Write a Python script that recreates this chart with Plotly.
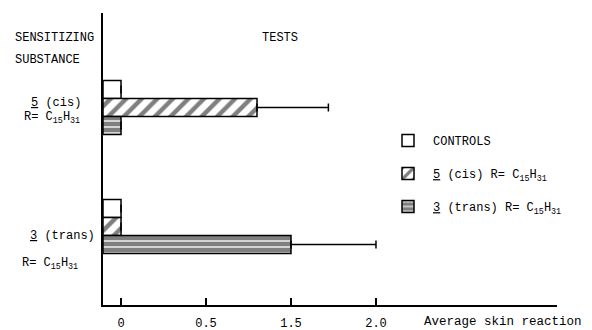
import plotly.graph_objects as go

# ---- data ----
groups = ["5 (cis)", "3 (trans)"]
group_labels = ["<u>5</u> (cis)", "<u>3</u> (trans)"]
formula = "R= C<sub>15</sub>H<sub>31</sub>"
series_names = [
    "CONTROLS",
    "<u>5</u> (cis) R= C<sub>15</sub>H<sub>31</sub>",
    "<u>3</u> (trans) R= C<sub>15</sub>H<sub>31</sub>",
]
controls = [0.0, 0.0]
cis_values = [0.8, 0.0]
trans_values = [0.0, 1.0]
controls_err = [0.0, 0.0]
cis_err = [0.42, 0.0]
trans_err = [0.0, 0.5]
tick_vals = [0, 0.5, 1.0, 1.5]
tick_text = ["0", "0.5", "1.5", "2.0"]

# ---- styling ----
XMIN, XMAX = -0.106, 2.565
FONT = "Liberation Mono"
BLACK = "black"
OFF = 8  # page body margin of the browser

patterns = [
    dict(shape="", fgcolor=BLACK, bgcolor="white"),
    dict(shape="/", fgcolor=BLACK, bgcolor="white", size=11, solidity=0.4),
    dict(shape="-", fgcolor=BLACK, bgcolor="white", size=6, solidity=0.78),
]
series_vals = [controls, cis_values, trans_values]
series_err = [controls_err, cis_err, trans_err]

fig = go.Figure()
for i, (name, vals, errs) in enumerate(zip(series_names, series_vals, series_err)):
    fig.add_trace(go.Bar(
        y=groups,
        x=[v - XMIN for v in vals],
        base=XMIN,
        orientation="h",
        name=name,
        legendgroup=f"g{i}",
        marker=dict(color="white", line=dict(color=BLACK, width=1.5), pattern=patterns[i]),
        error_x=dict(type="data", symmetric=False, array=errs, arrayminus=[0] * len(errs),
                     color=BLACK, thickness=1.5, width=4),
    ))

W, H = 592 - OFF, 330 - OFF
ML, MT = 103 - OFF, 13 - OFF
MR, MB = 35, 25
pw, ph = W - ML - MR, H - MT - MB


def px(x):
    return (x - OFF - ML) / pw


def py(y):
    return 1 - (y - OFF - MT) / ph


annotations = [
    dict(text="SENSITIZING", x=13, y=38, size=12),
    dict(text="SUBSTANCE", x=13, y=60, size=12),
    dict(text="TESTS", x=260, y=38, size=12),
    dict(text="Average skin reaction", x=422, y=322, size=12.5),
]
ann = []
for a in annotations:
    ann.append(dict(text=a["text"], xref="paper", yref="paper",
                    x=px(a["x"]), y=py(a["y"]),
                    xanchor="left", yanchor="middle", showarrow=False,
                    font=dict(family=FONT, size=a["size"], color=BLACK)))

name_shift = [4, -10]
form_shift = [-11, -38]
name_x = [29, 28]
form_x = [22, 20]
for gi, g in enumerate(groups):
    ann.append(dict(text=group_labels[gi], xref="paper", yref="y", x=px(name_x[gi]), y=g,
                    yshift=name_shift[gi], xanchor="left", yanchor="middle", showarrow=False,
                    font=dict(family=FONT, size=12, color=BLACK)))
    ann.append(dict(text=formula, xref="paper", yref="y", x=px(form_x[gi]), y=g,
                    yshift=form_shift[gi], xanchor="left", yanchor="middle", showarrow=False,
                    font=dict(family=FONT, size=12, color=BLACK)))

fig.update_layout(
    width=W, height=H,
    margin=dict(l=ML, r=MR, t=MT, b=MB, autoexpand=False),
    paper_bgcolor="white", plot_bgcolor="white",
    barmode="group", bargap=0.546, bargroupgap=0,
    showlegend=True,
    legend=dict(x=px(383), xanchor="left", y=py(126), yanchor="top",
                traceorder="grouped", tracegroupgap=14, itemwidth=40,
                bgcolor="rgba(0,0,0,0)",
                font=dict(family=FONT, size=12, color=BLACK)),
    xaxis=dict(range=[XMIN, XMAX], tickvals=tick_vals, ticktext=tick_text,
               ticks="inside", ticklen=7, tickwidth=1.5, tickcolor=BLACK,
               showline=True, linecolor=BLACK, linewidth=1.5, automargin=False,
               showgrid=False, zeroline=False, ticklabelstandoff=6,
               tickfont=dict(family=FONT, size=12, color=BLACK)),
    yaxis=dict(type="category", categoryorder="array", categoryarray=groups,
               range=[1.66, -0.794], showticklabels=False, ticks="", automargin=False,
               showline=True, linecolor=BLACK, linewidth=1.5, showgrid=False, zeroline=False),
    annotations=ann,
)

fig.write_html("out.html")
